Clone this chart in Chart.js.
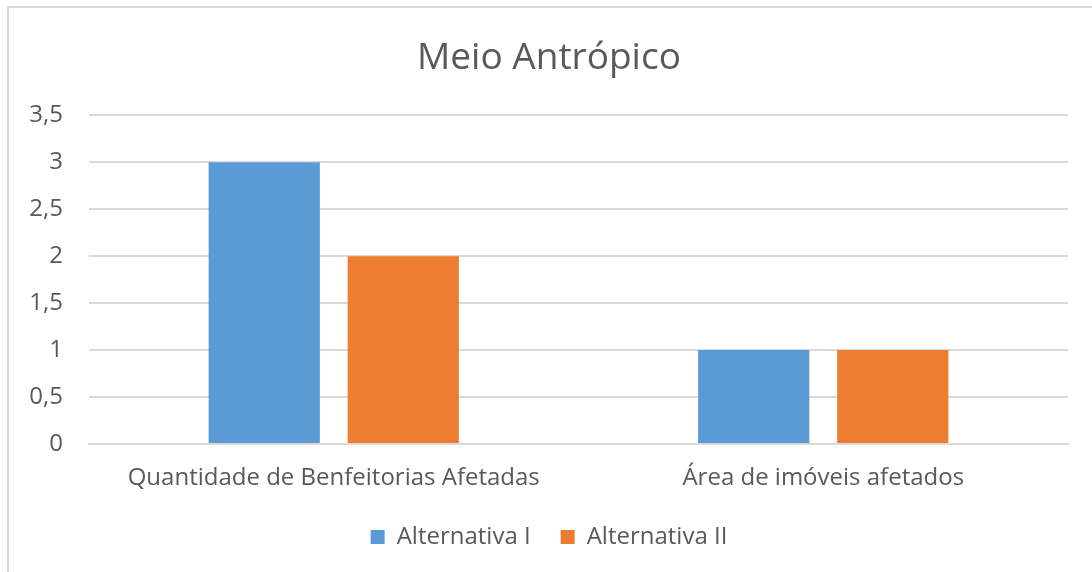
<!DOCTYPE html>
<html>
<head>
<meta charset="utf-8">
<script src="https://cdn.jsdelivr.net/npm/chart.js@4"></script>
<style>
  body { margin: 0; background: #fff; }
  #frame { position: absolute; left: 7px; top: 6px; width: 1100px; height: 600px; border: 2px solid #d9d9d9; pointer-events: none; }
  #wrap { position: absolute; left: 0; top: 0; width: 1092px; height: 572px; }
</style>
</head>
<body>
<div id="wrap"><canvas id="chart"></canvas></div>
<div id="frame"></div>
<script>
const categories = ['Quantidade de Benfeitorias Afetadas', 'Área de imóveis afetados'];
const alternativaI = [3, 1];
const alternativaII = [2, 1];
const yTicks = [0, 0.5, 1, 1.5, 2, 2.5, 3, 3.5];

const textColor = '#595959';
const fontFamily = "'Open Sans', 'Noto Sans', sans-serif";

const ctx = document.getElementById('chart');
new Chart(ctx, {
  type: 'bar',
  data: {
    labels: categories,
    datasets: [{
      label: 'Alternativa I',
      data: alternativaI,
      backgroundColor: '#5b9bd5'
    }, {
      label: 'Alternativa II',
      data: alternativaII,
      backgroundColor: '#ed7d31'
    }]
  },
  options: {
    responsive: true,
    maintainAspectRatio: false,
    animation: false,
    categoryPercentage: 0.568,
    barPercentage: 0.8,
    layout: { padding: { left: 30, right: 24, top: 0, bottom: 13 } },
    plugins: {
      title: {
        display: true,
        text: 'Meio Antrópico',
        color: textColor,
        font: { family: fontFamily, size: 37, weight: 'normal' },
        padding: { top: 36, bottom: 35 }
      },
      legend: {
        position: 'bottom',
        labels: {
          color: textColor,
          font: { family: fontFamily, size: 24 },
          boxWidth: 14,
          boxHeight: 14,
          padding: 30
        }
      },
      tooltip: { enabled: false }
    },
    scales: {
      x: {
        grid: { display: false },
        border: { display: true, color: '#d9d9d9', width: 2 },
        ticks: { color: textColor, font: { family: fontFamily, size: 24 }, padding: 12 },
        afterFit(scale) { scale.height = 51; }
      },
      y: {
        min: 0,
        max: 3.5,
        afterBuildTicks(scale) { scale.ticks = yTicks.map(v => ({ value: v })); },
        afterFit(scale) { scale.width = 59; },
        grid: { color: '#d9d9d9', lineWidth: 2, drawTicks: false },
        border: { display: false },
        ticks: {
          color: textColor,
          font: { family: fontFamily, size: 24 },
          padding: 26,
          callback: v => String(v).replace('.', ',')
        }
      }
    }
  }
});
</script>
</body>
</html>
